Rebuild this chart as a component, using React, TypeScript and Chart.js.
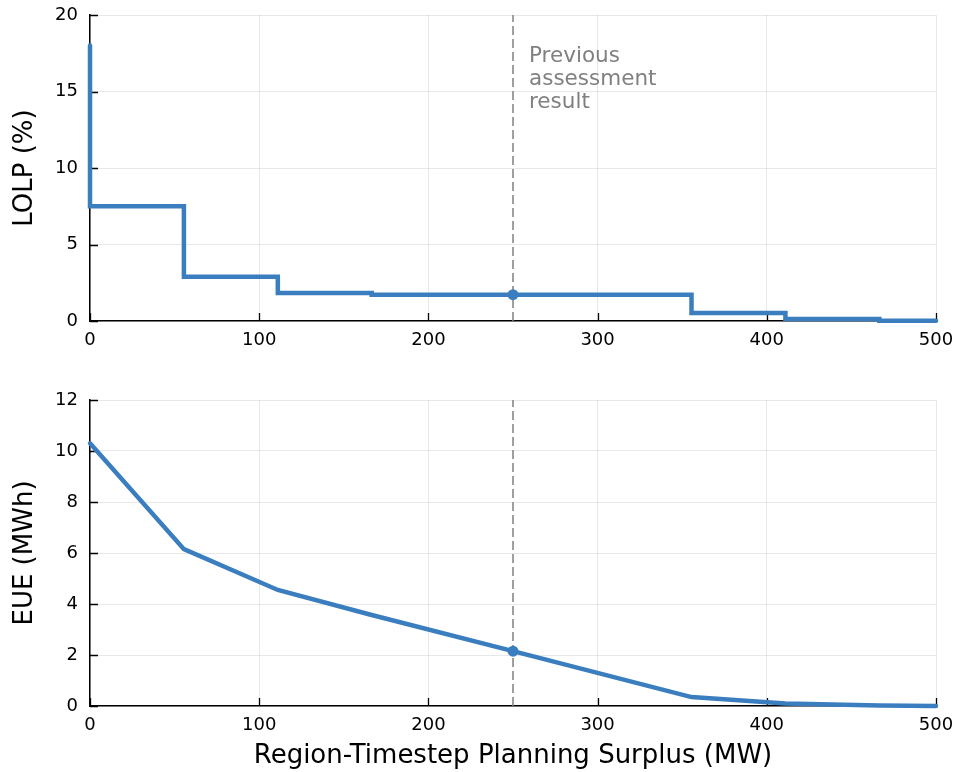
import { useEffect, useRef } from "react";
import { Chart, registerables } from "chart.js";
Chart.register(...registerables);

const surplus = [0, 55.5, 111, 166.5, 250, 355.5, 411, 466.5, 500];
const lolp = [18, 7.5, 2.9, 1.83, 1.72, 1.72, 0.52, 0.13, 0.02];
const eue = [10.3, 6.15, 4.55, 3.57, 2.15, 0.35, 0.1, 0.02, 0.0];
const previousSurplus = 250;
const previousLolp = 1.72;
const previousEue = 2.15;
const xTicks = [0, 100, 200, 300, 400, 500];
const lolpTicks = [0, 5, 10, 15, 20];
const eueTicks = [0, 2, 4, 6, 8, 10, 12];
const annotationLines = ["Previous", "assessment", "result"];

const FONT = "'DejaVu Sans', sans-serif";
const BLUE = "#3a7ebf";
const GRAY = "#808080";

function decor(opts: { yTitle: string; xTitle?: string; xTitleY?: number; annotate?: boolean }) {
  return {
    id: "decor",
    beforeDatasetsDraw(chart: any) {
      const ctx = chart.ctx;
      const a = chart.chartArea;
      const xs = chart.scales.x;
      const ys = chart.scales.y;
      ctx.save();
      ctx.strokeStyle = "#000";
      ctx.lineWidth = 1.3;
      ctx.beginPath();
      xs.ticks.forEach((t: any) => {
        const p = Math.round(xs.getPixelForValue(t.value)) + 0.5;
        ctx.moveTo(p, a.bottom);
        ctx.lineTo(p, a.bottom - 8);
      });
      ys.ticks.forEach((t: any) => {
        const p = Math.round(ys.getPixelForValue(t.value)) + 0.5;
        ctx.moveTo(a.left, p);
        ctx.lineTo(a.left + 8, p);
      });
      ctx.stroke();
      ctx.restore();
    },
    afterDraw(chart: any) {
      const ctx = chart.ctx;
      const a = chart.chartArea;
      ctx.save();
      ctx.fillStyle = "#000";
      ctx.font = `26px ${FONT}`;
      ctx.textAlign = "center";
      ctx.textBaseline = "middle";
      ctx.save();
      ctx.translate(25, (a.top + a.bottom) / 2);
      ctx.rotate(-Math.PI / 2);
      ctx.fillText(opts.yTitle, 0, 0);
      ctx.restore();
      if (opts.xTitle) {
        ctx.textBaseline = "alphabetic";
        ctx.fillText(opts.xTitle, (a.left + a.right) / 2, opts.xTitleY || 0);
      }
      if (opts.annotate) {
        const x = chart.scales.x.getPixelForValue(previousSurplus) + 16;
        ctx.fillStyle = GRAY;
        ctx.font = `21.5px ${FONT}`;
        ctx.textAlign = "left";
        ctx.textBaseline = "alphabetic";
        annotationLines.forEach((l, i) => ctx.fillText(l, x, 62 + i * 23));
      }
      ctx.restore();
    },
  };
}

function makeConfig(values: number[], prevY: number, ymax: number, yTicks: number[], stepped: any, plugin: any, padTop: number, xHeight: number): any {
  const pts = surplus.map((x, i) => ({ x, y: values[i] }));
  return {
    type: "line",
    data: {
      datasets: [
        {
          data: [{ x: previousSurplus, y: prevY }],
          showLine: false,
          pointRadius: 5.5,
          pointBackgroundColor: BLUE,
          pointBorderWidth: 0,
          order: 1,
          clip: false,
        },
        {
          data: pts,
          borderColor: BLUE,
          borderWidth: 4.5,
          pointRadius: 0,
          stepped,
          tension: 0,
          borderCapStyle: "round",
          borderJoinStyle: "miter",
          order: 2,
          clip: false,
        },
        {
          data: [{ x: previousSurplus, y: 0 }, { x: previousSurplus, y: ymax }],
          borderColor: GRAY,
          borderWidth: 1.5,
          borderDash: [9, 4],
          pointRadius: 0,
          order: 3,
        },
      ],
    },
    options: {
      animation: false,
      responsive: false,
      devicePixelRatio: 1,
      layout: { padding: { top: padTop, right: 20, left: 0, bottom: 0 } },
      plugins: { legend: { display: false }, tooltip: { enabled: false } },
      scales: {
        x: {
          type: "linear",
          min: 0,
          max: 500,
          afterBuildTicks: (s: any) => { s.ticks = xTicks.map((v) => ({ value: v })); },
          afterFit: (s: any) => { s.height = xHeight; s.paddingLeft = 0; s.paddingRight = 0; },
          grid: { color: "rgba(0,0,0,0.09)", lineWidth: 1, drawTicks: false },
          border: { display: true, color: "#000", width: 1.5 },
          ticks: { color: "#000", font: { family: FONT, size: 18 }, padding: 9, maxRotation: 0 },
        },
        y: {
          type: "linear",
          min: 0,
          max: ymax,
          afterBuildTicks: (s: any) => { s.ticks = yTicks.map((v) => ({ value: v })); },
          afterFit: (s: any) => { s.width = 90; s.paddingTop = 0; s.paddingBottom = 0; },
          grid: { color: "rgba(0,0,0,0.09)", lineWidth: 1, drawTicks: false },
          border: { display: true, color: "#000", width: 1.5 },
          ticks: { color: "#000", font: { family: FONT, size: 18 }, padding: 12 },
        },
      },
    },
    plugins: [plugin],
  };
}

export default function App() {
  const topRef = useRef<HTMLCanvasElement>(null);
  const botRef = useRef<HTMLCanvasElement>(null);
  useEffect(() => {
    const c1 = new Chart(
      topRef.current!,
      makeConfig(lolp, previousLolp, 20, lolpTicks, "after", decor({ yTitle: "LOLP (%)", annotate: true }), 15, 39)
    );
    const c2 = new Chart(
      botRef.current!,
      makeConfig(
        eue,
        previousEue,
        12,
        eueTicks,
        false,
        decor({ yTitle: "EUE (MWh)", xTitle: "Region-Timestep Planning Surplus (MW)", xTitleY: 403 }),
        40,
        66
      )
    );
    return () => {
      c1.destroy();
      c2.destroy();
    };
  }, []);
  return (
    <div style={{ position: "absolute", left: 0, top: 0, width: 956, height: 772, background: "#fff" }}>
      <canvas ref={topRef} width={956} height={360} style={{ position: "absolute", left: 0, top: 0, width: 956, height: 360 }} />
      <canvas ref={botRef} width={956} height={412} style={{ position: "absolute", left: 0, top: 360, width: 956, height: 412 }} />
    </div>
  );
}
